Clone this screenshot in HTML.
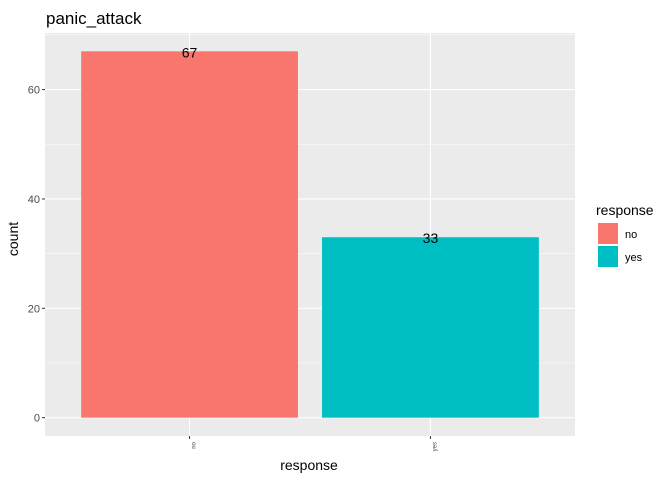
<!DOCTYPE html>
<html><head><meta charset="utf-8"><style>
body{margin:0;background:#fff;font-family:"Liberation Sans",Arial,sans-serif}
</style></head><body>
<svg id="chart" width="672" height="480" xmlns="http://www.w3.org/2000/svg">
<text x="46" y="24" font-size="17" fill="#000">panic_attack</text>
<rect x="45" y="33" width="530" height="403" fill="#ebebeb"/>
<g id="grid"></g><g id="bars"></g><g id="axes"></g>
<text x="14" y="235" font-size="14" transform="rotate(-90 18 235)" text-anchor="middle">count</text>
<text x="309" y="470" font-size="14" text-anchor="middle">response</text>
<g>
<text x="596" y="215" font-size="14">response</text>
<g id="legend"></g>
</g>
</svg>
<script>
const categories=["no","yes"];
const counts=[67,33];
const colors=["#F8766D","#00BFC4"];
const yTicks=[0,20,40,60];
const NS="http://www.w3.org/2000/svg";
const pL=45,pR=575,pT=33,pB=436;
const yMax=Math.max(...counts)*1.05,yMin=-Math.max(...counts)*0.05;
const y=v=>pB-(v-yMin)/(yMax-yMin)*(pB-pT);
const unit=(pR-pL)/(categories.length+0.2);
const x=i=>pL+(i+0.6)*unit;
function mk(t,a,p){const e=document.createElementNS(NS,t);for(const k in a)e.setAttribute(k,a[k]);(p||document.getElementById('chart')).appendChild(e);return e;}
const grid=document.getElementById('grid'),bars=document.getElementById('bars'),axes=document.getElementById('axes'),leg=document.getElementById('legend');
for(let k=0;k<yTicks.length-1;k++){const v=(yTicks[k]+yTicks[k+1])/2;
const l=mk('line',{x1:pL,x2:pR,y1:y(v),y2:y(v),stroke:'#fff','stroke-width':0.5},grid);

}
{const v=yTicks[yTicks.length-1]+10;if(y(v)>pT){const l=mk('line',{x1:pL,x2:pR,y1:y(v),y2:y(v),stroke:'#fff','stroke-width':0.5},grid);

}}
yTicks.forEach(v=>{const l=mk('line',{x1:pL,x2:pR,y1:y(v),y2:y(v),stroke:'#fff','stroke-width':1.1},grid);


const t=mk('line',{x1:pL-3,x2:pL,y1:y(v),y2:y(v),stroke:'#333'},axes);


const tx=mk('text',{x:pL-5,y:y(v)+4,'font-size':11,fill:'#4d4d4d','text-anchor':'end'},axes);tx.textContent=v;

});
categories.forEach((c,i)=>{const cx=x(i);
const g=mk('line',{x1:cx,x2:cx,y1:pT,y2:pB,stroke:'#fff','stroke-width':1.1},grid);


const w=unit*0.9;
const b=mk('rect',{x:cx-w/2,y:y(counts[i]),width:w,height:y(0)-y(counts[i]),fill:colors[i]},bars);


const lb=mk('text',{x:cx,y:y(counts[i])+6,'font-size':14,'text-anchor':'middle'},bars);lb.textContent=counts[i];


const t=mk('line',{x1:cx,x2:cx,y1:pB,y2:pB+3,stroke:'#333'},axes);


const tx=mk('text',{x:cx+6,y:pB+6,'font-size':6,fill:'#4d4d4d','text-anchor':'end',transform:`rotate(-90 ${cx+6} ${pB+6})`},axes);tx.textContent=c;


const k=mk('rect',{x:598,y:223+i*23,width:20,height:21,fill:colors[i]},leg);


const lt=mk('text',{x:625,y:238+i*23,'font-size':11,fill:'#000'},leg);lt.textContent=c;

});
</script>
</body></html>
